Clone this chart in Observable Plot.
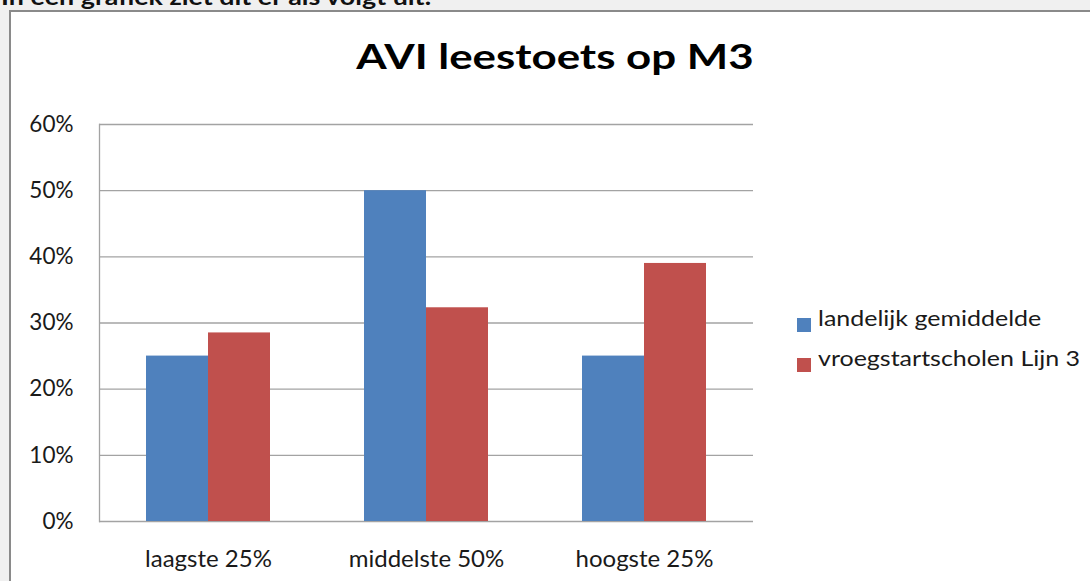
<!DOCTYPE html>
<html>
<head>
<meta charset="utf-8">
<script src="https://cdn.jsdelivr.net/npm/d3@7"></script>
<script src="https://cdn.jsdelivr.net/npm/@observablehq/plot@0.6"></script>
<style>
  html, body { margin: 0; padding: 0; width: 1090px; height: 581px; overflow: hidden; background: #f0f0f0; font-family: Lato, "Open Sans", sans-serif; }
  #intro { position: absolute; left: 1px; top: -17px; font-size: 22px; font-weight: bold; color: #111; white-space: nowrap; line-height: normal; transform: scaleX(1.22); transform-origin: 0 0; }
  #box { position: absolute; left: 9px; top: 10px; width: 1100px; height: 600px; border: 2px solid #8a8a8a; border-right: none; border-bottom: none; background: #fff; }
  #chart { position: absolute; left: 0; top: 0; }
  #title { position: absolute; left: 555px; top: 35px; font-size: 34px; font-weight: bold; color: #000; line-height: normal; white-space: nowrap; transform: translateX(-50%) scaleX(1.29); }
  .leg { position: absolute; left: 797px; font-size: 21px; color: #1a1a1a; white-space: nowrap; line-height: normal; }
  .leg i { position: absolute; left: 0; width: 14px; height: 14px; }
  .leg span { position: absolute; left: 21px; top: 0; transform: scaleX(1.19); transform-origin: 0 0; }
</style>
</head>
<body>
<div id="intro">In een grafiek ziet dit er als volgt uit:</div>
<div id="box"></div>
<div id="chart"></div>
<div id="titlewrap"></div>
<div id="legend"></div>
<script>
const categories = ["laagste 25%", "middelste 50%", "hoogste 25%"];
const seriesNames = ["landelijk gemiddelde", "vroegstartscholen Lijn 3"];
const landelijk = [0.25, 0.50, 0.25];
const vroegstart = [0.285, 0.323, 0.39];
const seriesColors = ["#4F81BD", "#C0504D"];
const yTicks = [0, 0.1, 0.2, 0.3, 0.4, 0.5, 0.6];
const chartTitle = "AVI leestoets op M3";

const table = [];
categories.forEach((c, i) => {
  table.push({category: c, series: seriesNames[0], value: landelijk[i]});
  table.push({category: c, series: seriesNames[1], value: vroegstart[i]});
});

const plot = Plot.plot({
  width: 1090,
  height: 581,
  marginLeft: 98,
  marginRight: 337,
  marginTop: 124,
  marginBottom: 60,
  style: {background: "transparent", fontFamily: "Lato, 'Open Sans', sans-serif", fontSize: "22px", color: "#1a1a1a", overflow: "visible"},
  fx: {domain: categories, padding: 0, label: null},
  x: {domain: seriesNames, paddingInner: 0, paddingOuter: 0.746, axis: null},
  y: {domain: [0, 0.6], label: null},
  color: {domain: seriesNames, range: seriesColors},
  marks: [
    Plot.gridY(yTicks, {stroke: "#a3a3a3", strokeOpacity: 1, strokeWidth: 1.3}),
    Plot.frame({anchor: "left", facetAnchor: "left", stroke: "#a3a3a3", strokeWidth: 1.3}),
    Plot.axisY(yTicks, {anchor: "left", tickSize: 0, tickPadding: 26, tickFormat: d3.format(".0%"), label: null, fill: "#1a1a1a", fontSize: 22.5}),
    Plot.axisFx({anchor: "bottom", tickSize: 0, tickPadding: 28, label: null, fill: "#1a1a1a", fontSize: 24}),
    Plot.barY(table, {fx: "category", x: "series", y: "value", fill: "series"})
  ]
});
document.getElementById("chart").appendChild(plot);

const t = document.createElement("div");
t.id = "title";
t.textContent = chartTitle;
document.getElementById("titlewrap").appendChild(t);

const legendTops = [305, 345];
const squareOffsets = [13, 13];
seriesNames.forEach((s, i) => {
  const d = document.createElement("div");
  d.className = "leg";
  d.style.top = legendTops[i] + "px";
  const sq = document.createElement("i");
  sq.style.background = seriesColors[i];
  sq.style.top = squareOffsets[i] + "px";
  const sp = document.createElement("span");
  sp.textContent = s;
  d.appendChild(sq); d.appendChild(sp);
  document.getElementById("legend").appendChild(d);
});
</script>
</body>
</html>
